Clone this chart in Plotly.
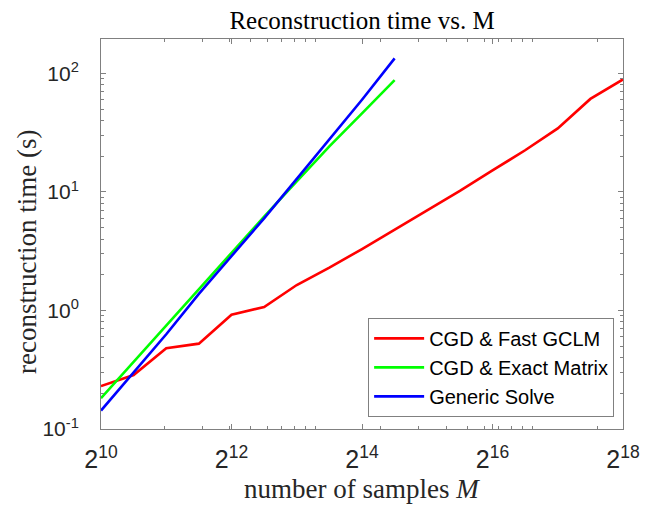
import plotly.graph_objects as go

# ---- data ----
exp_fast = [10, 10.5, 11, 11.5, 12, 12.5, 13, 13.5, 14, 14.5, 15, 15.5, 16, 16.5, 17, 17.5, 18]
time_fast = [0.23, 0.285, 0.48, 0.525, 0.92, 1.07, 1.64, 2.3, 3.3, 4.8, 7.1, 10.2, 15.2, 22.5, 34.4, 61, 89]

exp_exact = [10, 10.5, 11, 11.5, 12, 12.5, 13, 13.5, 14, 14.5]
time_exact = [0.182, 0.37, 0.74, 1.52, 3.05, 6.2, 12.3, 24.3, 46, 87.8]

exp_generic = [10, 10.5, 11, 11.5, 12, 12.5, 13, 13.5, 14, 14.5]
time_generic = [0.143, 0.30, 0.63, 1.38, 2.87, 6.0, 12.9, 27.7, 60, 134]

series_names = ["CGD & Fast GCLM", "CGD & Exact Matrix", "Generic Solve"]
series_colors = ["#ff0000", "#00ff00", "#0000ff"]

x_tick_exps = [10, 12, 14, 16, 18]
y_tick_exps = [-1, 0, 1, 2]

TITLE = "Reconstruction time vs. M"
XLABEL = "number of samples <i>M</i>"
YLABEL = "reconstruction time (s)"

# ---- figure ----
# page body has an 8px margin in the browser; figure is sized to fit inside 667x506
W, H = 659, 498
ML, MR, MT, MB = 93, 44, 31, 77

fig = go.Figure()
for ex, t, name, col in zip([exp_fast, exp_exact, exp_generic],
                            [time_fast, time_exact, time_generic],
                            series_names, series_colors):
    fig.add_trace(go.Scatter(x=[2 ** e for e in ex], y=t, mode="lines", name=name,
                             line=dict(color=col, width=2.6)))

axis_col = "#808080"
txt_col = "#262626"
serif = "Liberation Serif, DejaVu Serif, serif"
sans = "Liberation Sans, Arial, sans-serif"

x_minor = [m * 10 ** d for d in (3, 4, 5) for m in range(1, 10)]
y_minor = [m * 10 ** d for d in (-1, 0, 1, 2) for m in range(2, 10)]

fig.update_xaxes(
    type="log", range=[10 * 0.30103, 18 * 0.30103],
    tickmode="array", tickvals=[2 ** e for e in x_tick_exps],
    ticktext=[f"2<sup>{e}</sup>" for e in x_tick_exps],
    ticks="inside", ticklen=5, tickcolor=axis_col, tickwidth=1,
    showline=True, linecolor=axis_col, linewidth=1, mirror="ticks",
    showgrid=False, zeroline=False,
    tickfont=dict(family=sans, size=25, color=txt_col),
    ticklabelstandoff=8,
    minor=dict(tickmode="array", tickvals=x_minor, ticks="inside", ticklen=3,
               tickcolor=axis_col, showgrid=False),
)
fig.update_yaxes(
    type="log", range=[-1, 2.291],
    tickmode="array", tickvals=[10 ** e for e in y_tick_exps],
    ticktext=[f"10<sup>{e}</sup>" for e in y_tick_exps],
    ticks="inside", ticklen=5, tickcolor=axis_col, tickwidth=1,
    showline=True, linecolor=axis_col, linewidth=1, mirror="ticks",
    showgrid=False, zeroline=False,
    tickfont=dict(family=sans, size=21, color=txt_col),
    ticklabelstandoff=17,
    minor=dict(tickmode="array", tickvals=y_minor, ticks="inside", ticklen=3,
               tickcolor=axis_col, showgrid=False),
)

ph = H - MT - MB  # plot height in px
pw = W - ML - MR
fig.update_layout(
    width=W, height=H,
    margin=dict(l=ML, r=MR, t=MT, b=MB),
    paper_bgcolor="white", plot_bgcolor="white",
    title=dict(text=TITLE, x=0.5, xref="paper", y=1 - 3 / H, yref="container",
               xanchor="center", yanchor="top", pad=dict(t=0, b=0),
               font=dict(family=serif, size=25, color="black")),
    showlegend=True,
    legend=dict(x=0.983, y=0.031, xanchor="right", yanchor="bottom",
                bgcolor="white", bordercolor=axis_col, borderwidth=1,
                font=dict(family=sans, size=20, color="black"),
                itemwidth=50, tracegroupgap=0),
    annotations=[
        dict(text=XLABEL, xref="paper", yref="paper", x=0.5, y=-60 / ph,
             xanchor="center", yanchor="middle", showarrow=False,
             font=dict(family=serif, size=27, color=txt_col)),
        dict(text=YLABEL, xref="paper", yref="paper", x=-74 / pw, y=0.454,
             xanchor="center", yanchor="middle", showarrow=False, textangle=-90,
             font=dict(family=serif, size=27, color=txt_col)),
    ],
)

fig.write_html("out.html")
